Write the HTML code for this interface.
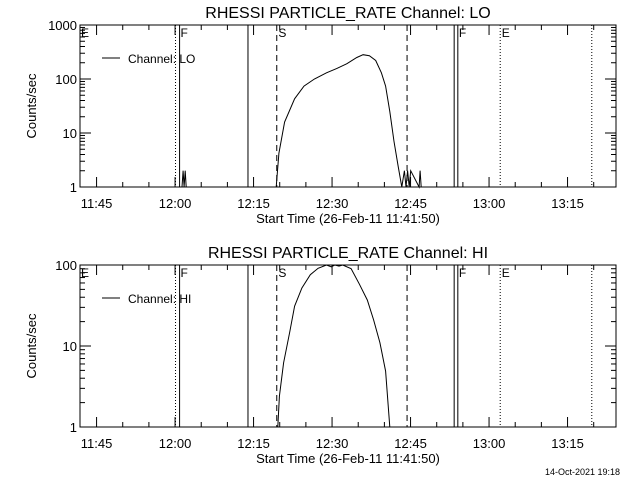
<!DOCTYPE html>
<html><head><meta charset="utf-8">
<style>
html,body{margin:0;padding:0;background:#fff;}
svg{display:block;font-family:"Liberation Sans",sans-serif;}
</style></head>
<body>
<svg id="c" width="640" height="480" viewBox="0 0 640 480" xmlns="http://www.w3.org/2000/svg">
<rect width="640" height="480" fill="#fff"/>
<text x="620" y="475" font-size="9" text-anchor="end">14-Oct-2021 19:18</text>
</svg>
<script>
// minutes since 11:41:50
const loTimes = [19.5,19.7,19.9,20.1,20.3, 37.5,38.0,39.1,41.0,42.8,44.8,47.1,49.1,51.0,52.9,54.1,55.3,56.5,57.6,58.4,59.2,60.0,60.8,61.5, 62.0,62.3,62.6,62.9,63.2, 64.8,65.0,65.2];
const loValues = [1,2,1,2,1, 1,4.2,16,43,74,100,130,157,192,250,282,270,220,130,74,25,7,2.4,1, 2,1,2,1,2, 1,2,1];
const hiTimes = [37.8,38.1,38.9,40.1,41.0,42.4,44.0,45.5,47.1,48.0,48.7,49.5,50.2,51.8,53.4,54.9,56.1,57.3,58.4,59.2];
const hiValues = [1,2.4,6.2,15,31,52,76,91,100,95,100,97,100,90,58,37,21,11,4.9,1];
const tickLabels = ["11:45","12:00","12:15","12:30","12:45","13:00","13:15"];
const tickMinutes = [3.1667,18.1667,33.1667,48.1667,63.1667,78.1667,93.1667];
const vlineMinutes = [18.25,19.03,32.1,37.6,62.5,71.5,72.2,80.3,97.8];
const vlineStyles = ["dot","solid","solid","dash","dash","solid","solid","dot","dot"];
const flagLabels = ["E","F","S","F","E"];
const flagMinutes = [0.2,19.2,37.9,72.4,80.6];

const NS="http://www.w3.org/2000/svg";
const svg=document.getElementById('c');
const X0=80,X1=616,TMAX=(616-80)/5.233;
function xs(m){return X0+m*(X1-X0)/TMAX;}
function mk(tag,attrs,parent){const e=document.createElementNS(NS,tag);for(const k in attrs)e.setAttribute(k,attrs[k]);(parent||svg).appendChild(e);return e;}

function panel(top,bot,decades,chan,times,vals,name){
  const g=mk('g',{});
  
  
  const ys=v=>bot-(Math.log10(v)/decades)*(bot-top);
  const t=mk('text',{x:348,y:top-7,'font-size':16,'text-anchor':'middle'},g);
  t.textContent='RHESSI PARTICLE_RATE Channel: '+chan;
  
  
  const box=mk('rect',{x:X0,y:top,width:X1-X0,height:bot-top,fill:'none',stroke:'#000','stroke-width':1},g);
  
  
  // y ticks
  for(let d=0;d<=decades;d++){
    const y=ys(Math.pow(10,d));
    mk('line',{x1:X0,y1:y,x2:X0+11,y2:y,stroke:'#000'},g);
    mk('line',{x1:X1,y1:y,x2:X1-11,y2:y,stroke:'#000'},g);
    const tl=mk('text',{x:X0-3,y:y+5,'font-size':13,'text-anchor':'end'},g);
    tl.textContent=String(Math.pow(10,d));
    
    
    if(d<decades){for(let k=2;k<=9;k++){const yy=ys(k*Math.pow(10,d));
      mk('line',{x1:X0,y1:yy,x2:X0+5,y2:yy,stroke:'#000'},g);
      mk('line',{x1:X1,y1:yy,x2:X1-5,y2:yy,stroke:'#000'},g);}}
  }
  // x ticks
  for(let m=3.1667-0;m<TMAX;m+=5){
    const major=Math.abs(((m-3.1667)/15)-Math.round((m-3.1667)/15))<0.01;
    const x=xs(m),L=major?10:5;
    mk('line',{x1:x,y1:bot,x2:x,y2:bot-L,stroke:'#000'},g);
    mk('line',{x1:x,y1:top,x2:x,y2:top+L,stroke:'#000'},g);
  }
  tickLabels.forEach((lab,i)=>{
    const tl=mk('text',{x:xs(tickMinutes[i]),y:bot+21,'font-size':13,'text-anchor':'middle'},g);
    tl.textContent=lab;
    
    
  });
  const xt=mk('text',{x:348,y:bot+36,'font-size':13,'text-anchor':'middle'},g);
  xt.textContent='Start Time (26-Feb-11 11:41:50)';
  
  
  const cy=(top+bot)/2;
  const yt=mk('text',{x:36,y:cy,'font-size':13,'text-anchor':'middle',transform:`rotate(-90 36 ${cy})`},g);
  yt.textContent='Counts/sec';
  
  
  // vertical lines
  vlineMinutes.forEach((m,i)=>{
    const s=vlineStyles[i];
    const l=mk('line',{x1:xs(m),y1:top,x2:xs(m),y2:bot,stroke:'#000','stroke-width':1},g);
    if(s==='dot')l.setAttribute('stroke-dasharray','1,2');
    if(s==='dash')l.setAttribute('stroke-dasharray','6,4');
    
    
  });
  flagLabels.forEach((f,i)=>{
    const tl=mk('text',{x:xs(flagMinutes[i]),y:top+12,'font-size':12},g);
    tl.textContent=f;
    
    
  });
  // legend
  mk('line',{x1:102,y1:top+33,x2:120,y2:top+33,stroke:'#000'},g);
  const lg=mk('text',{x:128,y:top+38,'font-size':12},g);
  lg.textContent='Channel: '+chan;
  
  
  // series
  let d='';
  times.forEach((m,i)=>{d+=(i?'L':'M')+xs(m).toFixed(1)+','+ys(vals[i]).toFixed(1);});
  const p=mk('path',{d:d,fill:'none',stroke:'#000','stroke-width':1},g);
  
  
}
panel(25,187,3,'LO',loTimes,loValues,'lo-panel');
panel(265,427,2,'HI',hiTimes,hiValues,'hi-panel');
</script>
</body></html>
